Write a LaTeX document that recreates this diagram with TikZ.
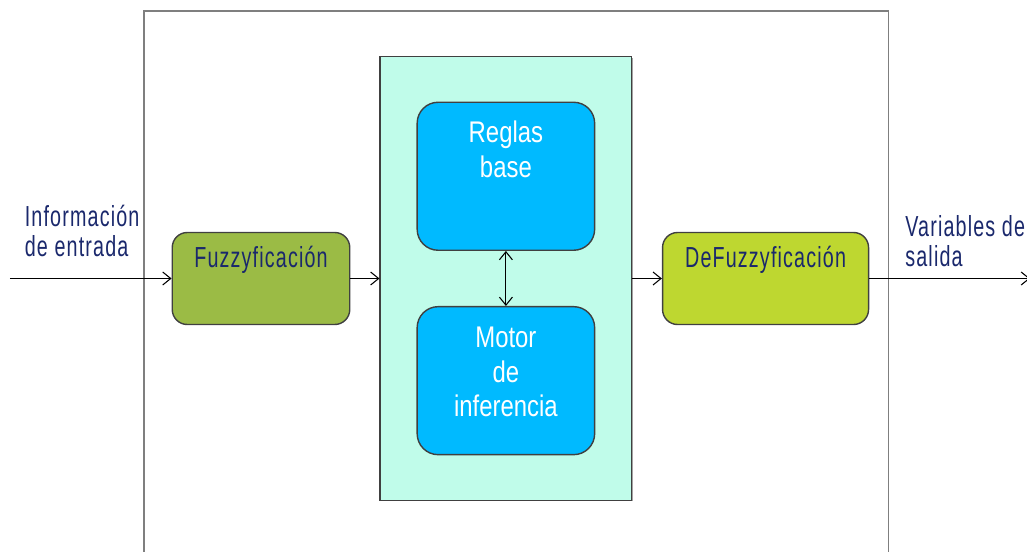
\documentclass[tikz,border=0pt]{standalone}
\usepackage{fontspec}
\setmainfont{Liberation Sans}
\newfontfamily\narrowfont[FakeStretch=0.8]{Liberation Sans}
\newfontfamily\spacedfont[FakeStretch=0.68,LetterSpace=4]{Liberation Sans}
\usetikzlibrary{arrows.meta,positioning,shadows}
\definecolor{frameline}{RGB}{127,127,127}
\definecolor{boxline}{RGB}{64,64,64}
\definecolor{fuzzgreen}{RGB}{155,187,69}
\definecolor{defuzzlime}{RGB}{190,215,48}
\definecolor{coremint}{RGB}{192,252,234}
\definecolor{knowblue}{RGB}{0,186,255}
\definecolor{labelnavy}{RGB}{26,40,108}
\tikzset{
  stage/.style    ={draw=boxline,line width=0.8pt,rounded corners=0.3cm,minimum height=1.84cm},
  core/.style     ={draw=boxline,line width=0.8pt,fill=coremint,minimum width=5.03cm,minimum height=8.87cm,
                    drop shadow={shadow xshift=0.5pt,shadow yshift=-0.7pt,fill=black!60,opacity=0.6}},
  kbox/.style     ={draw=boxline,line width=0.8pt,rounded corners=0.42cm,fill=knowblue,
                    minimum width=3.55cm,minimum height=2.96cm},
  navytext/.style ={text=labelnavy,font=\spacedfont\fontsize{16.5}{17}\selectfont,inner sep=0pt},
  whitetext/.style={text=white,font=\narrowfont\fontsize{17}{19.6}\selectfont,align=center,inner sep=0pt},
  arrow/.style    ={-{Straight Barb[length=1.6mm,width=2.6mm]},line width=0.6pt},
  dblarrow/.style ={{Straight Barb[length=1.6mm,width=2.6mm]}-{Straight Barb[length=1.6mm,width=2.6mm]},line width=0.6pt},
  frame/.style    ={draw=frameline,line width=0.9pt}
}
\begin{document}
\begin{tikzpicture}
  \useasboundingbox (0,0) rectangle (20.54,-11.02);
  % outer frame, open at the bottom
  \draw[frame] (2.88,-11.2) |- (17.77,-0.22) -- (17.77,-11.2);

  \node[stage,fill=fuzzgreen,minimum width=3.55cm] (fuzz) at (5.22,-5.57) {};
  \node[core,right=0.58cm of fuzz] (engine) {};
  \node[kbox,below=0.91cm of engine.north] (rules) {};
  \node[kbox,below=1.10cm of rules] (motor) {};
  \node[stage,fill=defuzzlime,minimum width=4.12cm,right=0.59cm of engine] (defuzz) {};

  % texts (base = last line)
  \node[navytext,anchor=base] (fuzztxt) at ([yshift=-0.71cm]fuzz.north) {Fuzzyficación};
  \node[navytext,anchor=base] (defuzztxt) at ([yshift=-0.72cm]defuzz.north) {DeFuzzyficación};
  \node[whitetext,anchor=base] (rulestxt) at ([yshift=-1.51cm]rules.north) {Reglas\\base};
  \node[whitetext,anchor=base] (motortxt) at ([yshift=-2.21cm]motor.north) {Motor\\de\\inferencia};
  \node[navytext,align=left,anchor=base west] (intxt) at (0.49,-5.13) {Información\\de entrada};
  \node[navytext,align=left,anchor=base west] (outtxt) at (18.10,-5.33) {Variables de\\salida};

  % signal flow
  \coordinate (in)  at (0.20,-5.57);
  \coordinate (out) at (20.60,-5.57);
  \draw[arrow] (in) -- (fuzz);
  \draw[arrow] (fuzz) -- (engine);
  \draw[arrow] (engine) -- (defuzz);
  \draw[arrow] (defuzz) -- (out);
  \draw[dblarrow] (rules) -- (motor);
\end{tikzpicture}
\end{document}
